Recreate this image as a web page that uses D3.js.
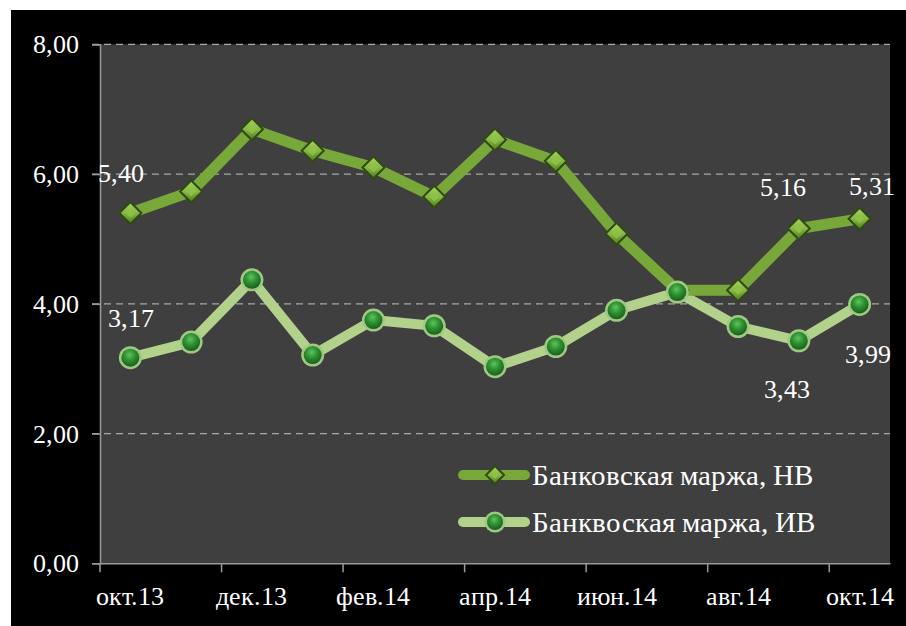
<!DOCTYPE html>
<html>
<head>
<meta charset="utf-8">
<script src="https://cdn.jsdelivr.net/npm/d3@7"></script>
<style>
  @font-face { font-family: 'ChartSerif'; src: local('Liberation Serif'), local('LiberationSerif'), local('Times New Roman'); }
  html, body { margin: 0; padding: 0; background: #fff; }
  svg { display: block; }
  svg text { font-family: 'ChartSerif', 'Liberation Serif', serif; }
</style>
</head>
<body>
<div id="chart"></div>
<script>
// data
let months = ['окт.13', 'ноя.13', 'дек.13', 'янв.14', 'фев.14', 'мар.14', 'апр.14',
              'май.14', 'июн.14', 'июл.14', 'авг.14', 'сен.14', 'окт.14']
let marginHB = [5.40, 5.73, 6.69, 6.36, 6.10, 5.65, 6.53, 6.20, 5.08, 4.21, 4.21, 5.16, 5.31]
let marginIV = [3.17, 3.41, 4.37, 3.21, 3.75, 3.66, 3.03, 3.34, 3.90, 4.18, 3.65, 3.43, 3.99]
let yTicks = [0, 2, 4, 6, 8]
let seriesNames = ['Банковская маржа, НВ', 'Банквоская маржа, ИВ']

let width = 906, height = 626
let plot = {left: 100, right: 890, top: 44.3, bottom: 563.3}

let svg = d3.select('#chart').append('svg')
    .attr('width', width)
    .attr('height', height)

let defs = svg.append('defs')
let dg = defs.append('linearGradient').attr('id', 'diamondGrad')
    .attr('x1', 0).attr('y1', 0).attr('x2', 0).attr('y2', 1)
dg.append('stop').attr('offset', '0%').attr('stop-color', '#a6d45e')
dg.append('stop').attr('offset', '50%').attr('stop-color', '#86b844')
dg.append('stop').attr('offset', '100%').attr('stop-color', '#4f7a1f')
let cg = defs.append('radialGradient').attr('id', 'circleGrad')
    .attr('cx', '45%').attr('cy', '35%').attr('r', '65%')
cg.append('stop').attr('offset', '0%').attr('stop-color', '#5fc35f')
cg.append('stop').attr('offset', '45%').attr('stop-color', '#2f9432')
cg.append('stop').attr('offset', '100%').attr('stop-color', '#1b5e1d')

// black chart background and grey plot area
svg.append('rect')
    .attr('x', 11).attr('y', 10)
    .attr('width', width - 11).attr('height', height - 10)
    .attr('fill', '#000')
svg.append('rect')
    .attr('x', plot.left).attr('y', plot.top)
    .attr('width', plot.right - plot.left).attr('height', plot.bottom - plot.top)
    .attr('fill', '#3f3f3f')

let x = d3.scaleBand()
    .domain(months)
    .range([plot.left, plot.right])
    .padding(0)
let y = d3.scaleLinear()
    .domain([0, 8])
    .range([plot.bottom, plot.top])
let cx = d => x(d) + x.bandwidth() / 2

// grid
svg.append('g')
    .selectAll('line')
    .data(yTicks.filter(d => d > 0))
    .enter()
    .append('line')
    .attr('x1', plot.left - 8).attr('x2', plot.right)
    .attr('y1', d => y(d)).attr('y2', d => y(d))
    .attr('stroke', '#a8a8a8')
    .attr('stroke-width', 1.2)
    .attr('stroke-dasharray', '7,5')

// y axis
let axis_y = d3.axisLeft(y)
    .tickValues(yTicks)
    .tickSize(8)
    .tickFormat(d => d3.format('.2f')(d).replace('.', ','))
let gy = svg.append('g')
    .attr('transform', `translate(${plot.left}, 0)`)
    .call(axis_y)
gy.select('.domain').attr('stroke', '#9a9a9a').attr('stroke-width', 1.5)
gy.selectAll('.tick line').attr('stroke', '#9a9a9a').attr('stroke-width', 1.5)
gy.selectAll('.tick text').remove()
svg.append('g')
    .selectAll('text')
    .data(yTicks)
    .enter()
    .append('text')
    .attr('x', plot.left - 21)
    .attr('y', d => y(d) + 9)
    .attr('text-anchor', 'end')
    .attr('fill', '#fff')
    .style('font-size', '26px')
    .text(d => d3.format('.2f')(d).replace('.', ','))

// x axis: ticks every second month boundary, labels every second month
let xLabels = months.filter((d, i) => i % 2 == 0)
let axis_x = d3.axisBottom(x)
    .tickValues(xLabels)
    .tickSize(0)
let gx = svg.append('g')
    .attr('transform', `translate(0, ${plot.bottom})`)
    .call(axis_x)
gx.select('.domain').attr('stroke', '#9a9a9a').attr('stroke-width', 1.5)
gx.selectAll('.tick text').remove()
gx.append('g')
    .selectAll('line')
    .data(xLabels.map(d => x(d)))
    .enter()
    .append('line')
    .attr('x1', d => d).attr('x2', d => d)
    .attr('y1', 0).attr('y2', 9)
    .attr('stroke', '#9a9a9a')
    .attr('stroke-width', 1.5)
svg.append('g')
    .selectAll('text')
    .data(xLabels)
    .enter()
    .append('text')
    .attr('x', d => cx(d))
    .attr('y', plot.bottom + 42)
    .attr('text-anchor', 'middle')
    .attr('fill', '#fff')
    .style('font-size', '26px')
    .text(d => d)

let line = d3.line()
    .x((d, i) => cx(months[i]))
    .y(d => y(d))

// series lines
svg.append('path')
    .datum(marginIV)
    .attr('d', line)
    .attr('fill', 'none')
    .attr('stroke', '#b2d28c')
    .attr('stroke-width', 10)
    .attr('stroke-linejoin', 'round')
svg.append('path')
    .datum(marginHB)
    .attr('d', line)
    .attr('fill', 'none')
    .attr('stroke', '#78a73a')
    .attr('stroke-width', 11)
    .attr('stroke-linejoin', 'round')

function diamond(g, px, py, r) {
    g.append('path')
        .attr('d', `M${px},${py - r} L${px + r},${py} L${px},${py + r} L${px - r},${py} Z`)
        .attr('fill', 'url(#diamondGrad)')
        .attr('stroke', '#2f4a12')
        .attr('stroke-width', 2)
    g.append('path')
        .attr('d', `M${px},${py - r * 0.45} L${px + r * 0.45},${py} L${px},${py + r * 0.45} L${px - r * 0.45},${py} Z`)
        .attr('fill', '#8fc447')
        .attr('opacity', 0.8)
}
function bead(g, px, py, r) {
    g.append('circle')
        .attr('cx', px).attr('cy', py).attr('r', r + 2.5)
        .attr('fill', '#9fc883')
    g.append('circle')
        .attr('cx', px).attr('cy', py).attr('r', r)
        .attr('fill', 'url(#circleGrad)')
}

// markers (HB diamonds drawn first, IV beads on top)
let gm = svg.append('g')
marginHB.forEach((d, i) => diamond(gm, cx(months[i]), y(d), 11))
marginIV.forEach((d, i) => bead(gm, cx(months[i]), y(d), 9))

// data labels that are shown on the picture
let fmt = v => d3.format('.2f')(v).replace('.', ',')
let shownLabels = [
    {s: marginHB, i: 0, dx: -9, dy: -31},
    {s: marginHB, i: 11, dx: -16, dy: -33},
    {s: marginHB, i: 12, dx: 12, dy: -24},
    {s: marginIV, i: 0, dx: 1, dy: -31},
    {s: marginIV, i: 11, dx: -12, dy: 57},
    {s: marginIV, i: 12, dx: 8, dy: 59}
]
svg.append('g')
    .selectAll('text')
    .data(shownLabels)
    .enter()
    .append('text')
    .attr('x', d => cx(months[d.i]) + d.dx)
    .attr('y', d => y(d.s[d.i]) + d.dy)
    .attr('text-anchor', 'middle')
    .attr('fill', '#fff')
    .style('font-size', '26px')
    .text(d => fmt(d.s[d.i]))

// legend
let legend = svg.append('g')
let legRows = [
    {name: seriesNames[0], color: '#78a73a', y: 475, mark: 'diamond'},
    {name: seriesNames[1], color: '#b2d28c', y: 522, mark: 'bead'}
]
legRows.forEach(r => {
    legend.append('line')
        .attr('x1', 463).attr('x2', 525)
        .attr('y1', r.y).attr('y2', r.y)
        .attr('stroke', r.color)
        .attr('stroke-width', 10)
        .attr('stroke-linecap', 'round')
    if (r.mark == 'diamond') diamond(legend, 495, r.y, 9)
    else bead(legend, 495, r.y, 8)
    legend.append('text')
        .attr('x', 532)
        .attr('y', r.y + 10)
        .attr('fill', '#fff')
        .style('font-size', '29px')
        .text(r.name)
})
</script>
</body>
</html>
